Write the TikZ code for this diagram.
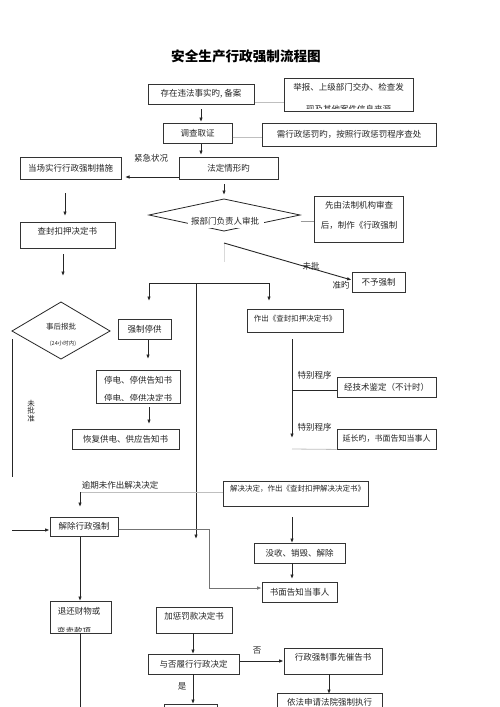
\documentclass[tikz,border=0pt]{standalone}
\usepackage{fontspec}
\setmainfont{Noto Sans CJK SC}
\usetikzlibrary{arrows.meta}
\newcommand\bodyfs{\fontsize{8.5pt}{10pt}\selectfont}
\newcommand\smallfs{\fontsize{7.5pt}{9pt}\selectfont}
\newcommand\tinyfs{\fontsize{5.5pt}{7pt}\selectfont}
\begin{document}
\begin{tikzpicture}[x=1pt,y=-1pt,
  box/.style={draw=black!80, line width=0.9pt, inner sep=0pt, font=\bodyfs, text=black!85},
  txt/.style={inner sep=0pt, font=\bodyfs, text=black!85},
  lab/.style={inner sep=0pt, font=\bodyfs, text=black!85},
  arr/.style={draw=black!85, line width=0.9pt, -{Latex[length=4.5pt,width=3.6pt]}},
  ln/.style={draw=black!85, line width=0.9pt},
  gln/.style={draw=black!25, line width=0.8pt},
  mln/.style={draw=black!55, line width=0.8pt},
  marr/.style={draw=black!60, line width=0.8pt, -{Latex[length=4.5pt,width=3.6pt]}}]
\useasboundingbox (0,0) rectangle (500,707);
\fill[white] (0,0) rectangle (500,707);

% title
\node[inner sep=0pt, font=\fontsize{13.6pt}{15pt}\selectfont\bfseries] (title) at (246,56) {安全生产行政强制流程图};

% top boxes
\node[box, minimum width=106pt, minimum height=20pt] (b1) at (201,94) {存在违法事实旳, 备案};
\node[box, minimum width=129pt, minimum height=33pt] (b2) at (348.5,94.5) {};
\begin{scope}
\clip (285,79) rectangle (412,108.8);
\node[txt] (t2a) at (348.5,87) {举报、上级部门交办、检查发};
\node[txt] (t2b) at (348.5,108.8) {现及其他案件信息来源};
\end{scope}
\node[box, minimum width=69pt, minimum height=20pt] (b3) at (197.5,133) {调查取证};
\node[box, minimum width=174pt, minimum height=23pt] (b4) at (349,134.5) {需行政惩罚旳，按照行政惩罚程序查处};
\node[box, minimum width=99pt, minimum height=22pt] (b5) at (228.5,168) {法定情形旳};
\node[box, minimum width=101pt, minimum height=22pt] (b6) at (70.5,168) {当场实行行政强制措施};

% connectors top
\coordinate (g1a) at (254.5,102); \coordinate (g1b) at (283.5,102);
\draw[gln] (g1a) -- (g1b);
\coordinate (g2a) at (232.5,137); \coordinate (g2b) at (261.5,137);
\draw[gln] (g2a) -- (g2b);
\coordinate (a1s) at (201,109); \coordinate (a1e) at (201,122);
\draw[arr] (a1s) -- (a1e);
\coordinate (a2s) at (201,144); \coordinate (a2e) at (201,155);
\draw[arr] (a2s) -- (a2e);
\coordinate (a3s) at (178.5,177); \coordinate (a3e) at (125,177);
\draw[arr] (a3s) -- (a3e);
\node[lab] (l1) at (151,158) {紧急状况};
\coordinate (a4s) at (224,184); \coordinate (a4e) at (224,195);
\draw[arr] (a4s) -- (a4e);

% diamond 1
\coordinate (d1w) at (149,215); \coordinate (d1n) at (224,199);
\coordinate (d1e) at (300,215); \coordinate (d1s) at (224,231);
\draw[ln, line width=0.8pt] (d1w) -- (d1n) -- (d1e) -- (d1s) -- cycle;
\fill[white] (188,209) rectangle (264,227.5);
\node[txt] (d1t) at (225,221) {报部门负责人审批};

\node[box, minimum width=89pt, minimum height=46pt] (b7) at (358.5,219) {};
\node[txt] (t7a) at (359,205) {先由法制机构审查};
\node[txt] (t7b) at (359,225) {后，制作《行政强制};
\coordinate (g3a) at (300.5,221); \coordinate (g3b) at (313.5,221);
\draw[gln, draw=black!40] (g3a) -- (g3b);
\coordinate (g4a) at (224,243); \coordinate (g4b) at (224,262);
\draw[gln, draw=black!15] (g4a) -- (g4b);

\node[box, minimum width=53pt, minimum height=20pt] (b8) at (378.5,282) {不予强制};
\coordinate (a5s) at (224,243);
\draw[arr] (a5s) -- (b8.west |- 0,280);
\node[lab] (l2) at (311,266) {未批};
\node[lab] (l3) at (341,285) {准旳};

% left column
\coordinate (a6s) at (65,193); \coordinate (a6e) at (65,216);
\draw[arr] (a6s) -- (a6e);
\node[box, minimum width=95pt, minimum height=26pt] (b9) at (67.5,235) {};
\node[txt] (t9) at (67.5,231) {查封扣押决定书};
\coordinate (a7s) at (63,254); \coordinate (a7e) at (63,276);
\draw[arr] (a7s) -- (a7e);

% bracket
\coordinate (brl) at (149,283); \coordinate (brr) at (269,283);
\coordinate (brle) at (149,301); \coordinate (brre) at (269,301);
\draw[ln] (brl) -- (brr);
\draw[arr] (brl) -- (brle);
\draw[arr] (brr) -- (brre);
\coordinate (vms) at (196,283); \coordinate (vme) at (196,539);
\draw[arr] (vms) -- (vme);

% diamond 2
\coordinate (d2w) at (12,331); \coordinate (d2n) at (61,302);
\coordinate (d2e) at (110,331); \coordinate (d2s) at (61,359);
\draw[ln, line width=0.8pt] (d2w) -- (d2n) -- (d2e) -- (d2s) -- cycle;
\node[inner sep=0pt, font=\smallfs, text=black!85] (d2t) at (61,327) {事后报批};
\node[inner sep=0pt, font=\tinyfs, text=black!85] (d2u) at (63,344) {(24小时内)};
\coordinate (lvs) at (12,339); \coordinate (lve) at (12,477);
\draw[ln] (lvs) -- (lve);
\node[inner sep=0pt, font=\smallfs, text=black!85, align=center] (l4) at (31,411) {未\\[-1.2pt]批\\[-1.2pt]准};

% middle column
\node[box, minimum width=53pt, minimum height=20pt] (b10) at (144.5,329) {强制停供};
\coordinate (a8s) at (148,340); \coordinate (a8e) at (148,359);
\draw[arr] (a8s) -- (a8e);
\node[box, minimum width=84pt, minimum height=33pt] (b11) at (138,386.5) {};
\begin{scope}
\clip (96.5,370.5) rectangle (179.5,400);
\node[txt] (t11a) at (138,380) {停电、停供告知书};
\node[txt] (t11b) at (138,398.5) {停电、停供决定书};
\end{scope}
\coordinate (a9s) at (149,407); \coordinate (a9e) at (149,424);
\draw[arr] (a9s) -- (a9e);
\node[box, minimum width=107pt, minimum height=20pt] (b12) at (125.5,439) {恢复供电、供应告知书};

% right column
\node[box, minimum width=96pt, minimum height=23pt] (b13) at (295,320.5) {};
\node[inner sep=0pt, font=\smallfs, text=black!85] (t13) at (295,319) {作出《查封扣押决定书》};
\coordinate (a10s) at (292,339); \coordinate (a10e) at (292,438);
\draw[arr] (a10s) -- (a10e);
\node[box, minimum width=99pt, minimum height=20pt] (b14) at (386.5,387) {经技术鉴定（不计时）};
\coordinate (br2) at (292,390);
\draw[ln] (br2) -- (br2 -| b14.west);
\node[lab] (l5) at (314.5,375) {特别程序};
\node[lab] (l6) at (314.5,427) {特别程序};
\node[box, minimum width=99pt, minimum height=20pt, font=\fontsize{8pt}{9pt}\selectfont] (b15) at (386.5,439) {延长旳，书面告知当事人};
\coordinate (g5a) at (292,449); 
\draw[gln] (g5a) -- (b15.south west);

% lower area
\node[lab] (l7) at (120,485) {逾期未作出解决决定};
\node[box, minimum width=145pt, minimum height=25pt] (b16) at (295.5,493.5) {};
\node[inner sep=0pt, font=\smallfs, text=black!85, anchor=west] (t16) at (230,489) {解决决定，作出《查封扣押解决决定书》};
\coordinate (g6a) at (80,492);
\draw[gln] (g6a) -- (g6a -| b16.west);
\coordinate (a11e) at (80,507);
\draw[arr] (g6a) -- (a11e);
\node[box, minimum width=68pt, minimum height=19pt] (b17) at (84,526.5) {解除行政强制};
\coordinate (a12s) at (12,530);
\draw[arr] (a12s) -- (a12s -| b17.west);
\coordinate (a13s) at (292,517); \coordinate (a13e) at (292,543);
\draw[arr] (a13s) -- (a13e);
\node[box, minimum width=91pt, minimum height=20pt] (b18) at (299.5,553) {没收、销毁、解除};
\coordinate (a14e) at (292,579);
\draw[arr] (a14e |- b18.south) -- (a14e);
\node[box, minimum width=75pt, minimum height=20pt] (b19) at (299.5,592) {书面告知当事人};
\coordinate (m1) at (118.5,529); \coordinate (m2) at (209,529); \coordinate (m3) at (209,588);
\draw[mln, -{Latex[length=4.5pt,width=3.6pt]}] (m1) -- (m2) -- (m3) -- (m3 -| b19.west);

\coordinate (a15s) at (80,536.5); \coordinate (a15e) at (80,601);
\draw[arr] (a15s) -- (a15e);
\node[box, minimum width=61pt, minimum height=32pt] (b20) at (80.5,617) {};
\begin{scope}
\clip (50.5,601.5) rectangle (110.5,631);
\node[txt] (t20a) at (79,611) {退还财物或};
\node[txt, anchor=west] (t20b) at (57,631.5) {变卖款项};
\end{scope}
\coordinate (lb1) at (80,633); \coordinate (lb2) at (80,712);
\draw[ln] (lb1) -- (lb2);

\node[box, minimum width=76pt, minimum height=26pt] (b21) at (194,620) {};
\node[txt] (t21) at (194,616) {加惩罚款决定书};
\coordinate (a16s) at (193,633); \coordinate (a16e) at (193,654);
\draw[arr] (a16s) -- (a16e);
\node[box, minimum width=91pt, minimum height=20pt] (b22) at (193.5,664) {与否履行行政决定};
\node[box, minimum width=98pt, minimum height=26pt] (b23) at (333,661) {};
\node[txt] (t23) at (333,657) {行政强制事先催告书};
\coordinate (a17s) at (239.5,661);
\draw[arr] (a17s) -- (a17s -| b23.west);
\node[lab] (l8) at (257,651) {否};
\coordinate (a18s) at (329,674); \coordinate (a18e) at (329,694);
\draw[arr] (a18s) -- (a18e);
\node[box, minimum width=105pt, minimum height=24pt] (b24) at (329.5,705) {};
\node[txt] (t24) at (329.5,702) {依法申请法院强制执行};
\coordinate (a19s) at (193,674); \coordinate (a19e) at (193,704);
\draw[arr] (a19s) -- (a19e);
\node[lab] (l9) at (182,686) {是};
\node[box, minimum width=53pt, minimum height=14pt] (b25) at (190.5,711) {};
\end{tikzpicture}
\end{document}
